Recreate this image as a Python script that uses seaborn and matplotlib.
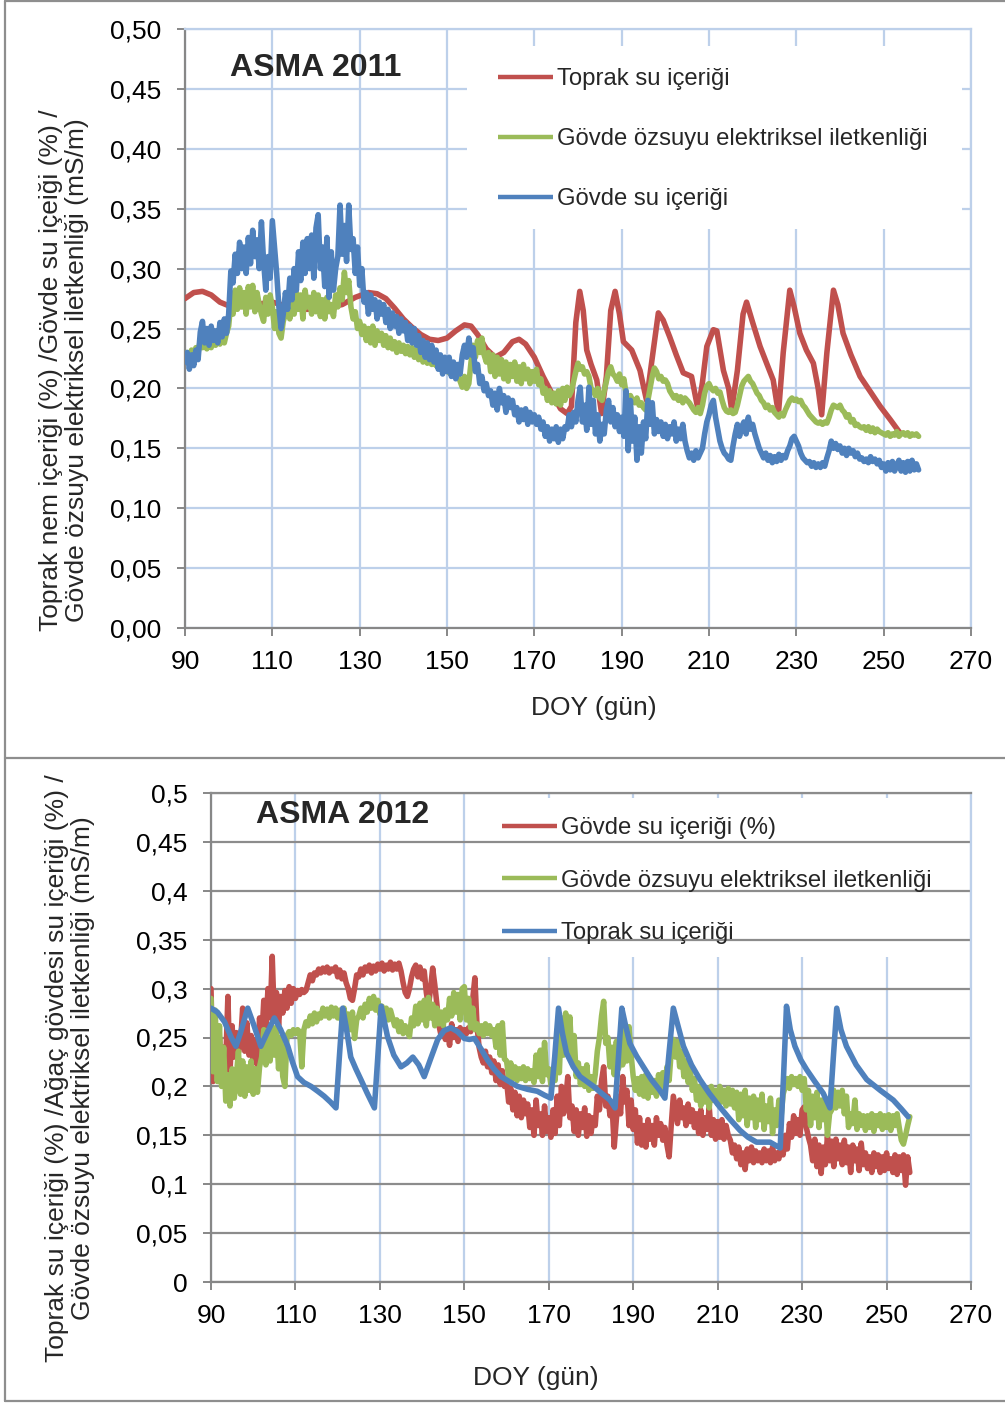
import numpy as np
import matplotlib
matplotlib.use("Agg")
import matplotlib.pyplot as plt
from matplotlib.lines import Line2D
from matplotlib.patches import Rectangle
import seaborn as sns

sns.set_theme(style="white")
plt.rcParams["font.family"] = ["Liberation Sans", "DejaVu Sans"]

RED = "#C0504D"
GREEN = "#9BBB59"
BLUE = "#4F81BD"
GRID_BLUE = "#BDD0EA"
AXIS_GRAY = "#878787"
FRAME_GRAY = "#8E8E8E"

# ---------------------------------------------------------------- axes text
XTICKS = [90, 110, 130, 150, 170, 190, 210, 230, 250, 270]
YTICKS = [0.00, 0.05, 0.10, 0.15, 0.20, 0.25, 0.30, 0.35, 0.40, 0.45, 0.50]
YTICK_LABELS_2011 = ["0,00", "0,05", "0,10", "0,15", "0,20", "0,25",
                     "0,30", "0,35", "0,40", "0,45", "0,50"]
YTICK_LABELS_2012 = ["0", "0,05", "0,1", "0,15", "0,2", "0,25",
                     "0,3", "0,35", "0,4", "0,45", "0,5"]
XLABEL = "DOY (gün)"
YLABEL_2011 = ("Toprak nem içeriği (%) /Gövde su içeiği (%) /\n"
               "Gövde özsuyu elektriksel iletkenliği (mS/m)")
YLABEL_2012 = ("Toprak su içeriği (%) /Ağaç gövdesi su içeriği (%) /\n"
               "Gövde özsuyu elektriksel iletkenliği (mS/m)")
TITLE_2011 = "ASMA 2011"
TITLE_2012 = "ASMA 2012"
LABELS_2011 = ["Toprak su içeriği", "Gövde özsuyu elektriksel iletkenliği",
               "Gövde su içeriği"]
LABELS_2012 = ["Gövde su içeriği (%)", "Gövde özsuyu elektriksel iletkenliği",
               "Toprak su içeriği"]

# ---------------------------------------------------------------- 2011 data
# soil water content (smooth sensor record)
soil_2011_doy = [90, 92, 94, 96, 98, 100, 102, 106, 110, 114, 118, 122, 126, 129,
                 132, 134, 136, 138, 140, 142, 144, 146, 148, 150, 152, 154, 155.5,
                 157, 159, 161, 163, 165, 166.5, 168, 170, 172, 174, 176, 177.5,
                 178.5, 179.5, 180.4, 181.2, 182, 183, 184.3, 185.4, 186.5, 187.5,
                 188.5, 189.5, 190.4, 192.3, 194.2, 195.7, 196.8, 198.4, 199.5, 201,
                 202.5, 204.1, 206, 207.5, 208.5, 209.5, 211, 211.8, 213.3, 214.5,
                 215.2, 216.5, 217.8, 218.6, 220, 221.7, 223.3, 224.7, 225.9, 227,
                 228.5, 229.5, 230.8, 232.3, 233.9, 235, 235.8, 237, 238.5, 239.5,
                 240.7, 242.5, 244.6, 247, 249.2, 251.5, 253.7]
soil_2011 = [0.275, 0.280, 0.281, 0.278, 0.272, 0.269, 0.268, 0.270, 0.272, 0.268,
             0.266, 0.267, 0.270, 0.276, 0.280, 0.279, 0.275, 0.267, 0.258, 0.251,
             0.245, 0.241, 0.240, 0.242, 0.248, 0.253, 0.252, 0.245, 0.233, 0.226,
             0.230, 0.239, 0.241, 0.237, 0.226, 0.210, 0.196, 0.183, 0.179, 0.185,
             0.255, 0.281, 0.265, 0.232, 0.220, 0.207, 0.179, 0.210, 0.265, 0.281,
             0.262, 0.239, 0.232, 0.215, 0.190, 0.220, 0.263, 0.257, 0.243, 0.228,
             0.213, 0.210, 0.182, 0.205, 0.235, 0.249, 0.248, 0.215, 0.200, 0.182,
             0.215, 0.262, 0.272, 0.255, 0.235, 0.220, 0.207, 0.179, 0.230, 0.282,
             0.268, 0.246, 0.232, 0.221, 0.200, 0.178, 0.230, 0.282, 0.270, 0.246,
             0.228, 0.210, 0.197, 0.185, 0.174, 0.163]

# half-daily readings, DOY 90.0 ... 258.0
stem_2011_start, stem_2011_step = 90.0, 0.5
sap_ec_2011 = [
    0.224, 0.230, 0.222, 0.232, 0.226, 0.234, 0.230, 0.240, 0.234, 0.243,
    0.233, 0.242, 0.234, 0.244, 0.236, 0.243, 0.237, 0.245, 0.238, 0.246,
    0.252, 0.272, 0.262, 0.282, 0.266, 0.284, 0.268, 0.280, 0.262, 0.285,
    0.268, 0.286, 0.264, 0.280, 0.270, 0.262, 0.256, 0.276, 0.262, 0.278,
    0.268, 0.250, 0.264, 0.246, 0.242, 0.256, 0.262, 0.272, 0.258, 0.276,
    0.262, 0.280, 0.266, 0.278, 0.258, 0.282, 0.268, 0.276, 0.262, 0.280,
    0.264, 0.278, 0.260, 0.274, 0.258, 0.276, 0.264, 0.270, 0.260, 0.278,
    0.268, 0.284, 0.274, 0.297, 0.280, 0.290, 0.268, 0.258, 0.264, 0.250,
    0.256, 0.245, 0.252, 0.240, 0.250, 0.238, 0.252, 0.236, 0.248, 0.240,
    0.246, 0.236, 0.244, 0.234, 0.242, 0.233, 0.239, 0.230, 0.238, 0.231,
    0.236, 0.229, 0.235, 0.228, 0.234, 0.226, 0.232, 0.224, 0.230, 0.222,
    0.229, 0.221, 0.228, 0.220, 0.227, 0.219, 0.226, 0.218, 0.224, 0.216,
    0.222, 0.213, 0.220, 0.212, 0.219, 0.211, 0.206, 0.201, 0.210, 0.200,
    0.204, 0.222, 0.236, 0.226, 0.240, 0.230, 0.242, 0.228, 0.222, 0.230,
    0.214, 0.228, 0.210, 0.226, 0.212, 0.224, 0.208, 0.222, 0.206, 0.220,
    0.210, 0.222, 0.206, 0.218, 0.204, 0.220, 0.208, 0.216, 0.204, 0.214,
    0.206, 0.216, 0.203, 0.208, 0.196, 0.200, 0.190, 0.198, 0.188, 0.196,
    0.187, 0.198, 0.186, 0.200, 0.190, 0.201, 0.194, 0.198, 0.206, 0.214,
    0.221, 0.216, 0.218, 0.212, 0.214, 0.210, 0.200, 0.198, 0.194, 0.200,
    0.192, 0.190, 0.198, 0.206, 0.214, 0.218, 0.212, 0.210, 0.206, 0.212,
    0.203, 0.208, 0.196, 0.192, 0.194, 0.190, 0.188, 0.192, 0.186, 0.188,
    0.184, 0.182, 0.190, 0.200, 0.210, 0.217, 0.214, 0.208, 0.210, 0.206,
    0.207, 0.204, 0.198, 0.195, 0.192, 0.194, 0.190, 0.193, 0.188, 0.192,
    0.190, 0.188, 0.185, 0.182, 0.180, 0.184, 0.179, 0.186, 0.196, 0.202,
    0.204, 0.200, 0.198, 0.200, 0.196, 0.197, 0.190, 0.184, 0.181, 0.180,
    0.182, 0.179, 0.180, 0.186, 0.194, 0.202, 0.206, 0.208, 0.210, 0.206,
    0.204, 0.200, 0.196, 0.194, 0.190, 0.188, 0.184, 0.186, 0.182, 0.184,
    0.180, 0.178, 0.176, 0.179, 0.177, 0.182, 0.186, 0.190, 0.192, 0.190,
    0.191, 0.189, 0.190, 0.186, 0.184, 0.181, 0.178, 0.176, 0.174, 0.172,
    0.171, 0.172, 0.170, 0.172, 0.171, 0.176, 0.182, 0.186, 0.185, 0.184,
    0.186, 0.182, 0.180, 0.176, 0.178, 0.172, 0.174, 0.169, 0.170, 0.168,
    0.167, 0.168, 0.165, 0.168, 0.164, 0.167, 0.163, 0.166, 0.164, 0.163,
    0.162, 0.161, 0.163, 0.160, 0.162, 0.161, 0.164, 0.160, 0.162, 0.163,
    0.161, 0.163, 0.160, 0.162, 0.161, 0.162, 0.160]
stem_water_2011 = [
    0.222, 0.230, 0.216, 0.228, 0.219, 0.232, 0.224, 0.247, 0.256, 0.238,
    0.250, 0.236, 0.252, 0.240, 0.248, 0.238, 0.255, 0.243, 0.258, 0.246,
    0.262, 0.298, 0.288, 0.312, 0.296, 0.322, 0.300, 0.318, 0.296, 0.326,
    0.304, 0.332, 0.310, 0.324, 0.300, 0.339, 0.306, 0.282, 0.310, 0.292,
    0.340, 0.318, 0.296, 0.268, 0.250, 0.262, 0.280, 0.266, 0.292, 0.274,
    0.300, 0.282, 0.314, 0.290, 0.322, 0.296, 0.325, 0.300, 0.328, 0.292,
    0.334, 0.345, 0.300, 0.318, 0.285, 0.326, 0.276, 0.314, 0.282, 0.300,
    0.310, 0.353, 0.312, 0.336, 0.306, 0.353, 0.316, 0.325, 0.296, 0.318,
    0.286, 0.300, 0.272, 0.280, 0.262, 0.278, 0.266, 0.274, 0.258, 0.272,
    0.262, 0.270, 0.255, 0.266, 0.250, 0.263, 0.252, 0.260, 0.246, 0.258,
    0.248, 0.255, 0.240, 0.252, 0.238, 0.250, 0.236, 0.244, 0.230, 0.240,
    0.226, 0.238, 0.224, 0.236, 0.222, 0.232, 0.216, 0.228, 0.212, 0.226,
    0.214, 0.226, 0.210, 0.222, 0.208, 0.220, 0.212, 0.228, 0.236, 0.226,
    0.242, 0.228, 0.234, 0.214, 0.220, 0.204, 0.210, 0.198, 0.204, 0.194,
    0.198, 0.186, 0.196, 0.182, 0.200, 0.188, 0.194, 0.180, 0.192, 0.184,
    0.190, 0.178, 0.184, 0.172, 0.182, 0.174, 0.183, 0.170, 0.180, 0.172,
    0.178, 0.170, 0.176, 0.166, 0.172, 0.160, 0.168, 0.156, 0.166, 0.158,
    0.168, 0.155, 0.166, 0.158, 0.168, 0.166, 0.178, 0.168, 0.180, 0.172,
    0.190, 0.201, 0.172, 0.186, 0.165, 0.201, 0.170, 0.190, 0.162, 0.178,
    0.156, 0.170, 0.162, 0.182, 0.190, 0.172, 0.184, 0.168, 0.178, 0.164,
    0.176, 0.160, 0.198, 0.148, 0.190, 0.156, 0.176, 0.140, 0.168, 0.146,
    0.172, 0.158, 0.190, 0.170, 0.188, 0.162, 0.174, 0.164, 0.172, 0.160,
    0.170, 0.158, 0.168, 0.162, 0.172, 0.156, 0.166, 0.158, 0.170, 0.156,
    0.148, 0.142, 0.146, 0.140, 0.148, 0.142, 0.146, 0.150, 0.162, 0.172,
    0.178, 0.186, 0.190, 0.176, 0.166, 0.156, 0.150, 0.146, 0.144, 0.141,
    0.140, 0.152, 0.162, 0.170, 0.160, 0.168, 0.172, 0.162, 0.176, 0.166,
    0.170, 0.162, 0.156, 0.150, 0.146, 0.142, 0.146, 0.140, 0.144, 0.138,
    0.143, 0.139, 0.145, 0.140, 0.144, 0.142, 0.148, 0.152, 0.158, 0.160,
    0.156, 0.152, 0.146, 0.142, 0.140, 0.138, 0.139, 0.135, 0.138, 0.134,
    0.137, 0.134, 0.138, 0.135, 0.142, 0.148, 0.156, 0.150, 0.154, 0.149,
    0.152, 0.146, 0.150, 0.144, 0.150, 0.146, 0.148, 0.143, 0.146, 0.141,
    0.142, 0.139, 0.141, 0.138, 0.143, 0.139, 0.141, 0.137, 0.140, 0.134,
    0.137, 0.131, 0.138, 0.132, 0.139, 0.131, 0.136, 0.140, 0.131, 0.138,
    0.130, 0.139, 0.131, 0.140, 0.132, 0.137, 0.132]

# ---------------------------------------------------------------- 2012 data
# half-daily readings, DOY 90.0 ... 255.5
stem_2012_start, stem_2012_step = 90.0, 0.5
stem_water_2012 = [
    0.300, 0.205, 0.262, 0.212, 0.250, 0.208, 0.240, 0.225, 0.292, 0.215,
    0.262, 0.230, 0.255, 0.235, 0.245, 0.280, 0.236, 0.265, 0.232, 0.252,
    0.224, 0.248, 0.222, 0.270, 0.246, 0.288, 0.262, 0.300, 0.270, 0.333,
    0.268, 0.296, 0.262, 0.292, 0.275, 0.298, 0.280, 0.302, 0.285, 0.300,
    0.290, 0.298, 0.294, 0.299, 0.296, 0.298, 0.306, 0.314, 0.308, 0.316,
    0.314, 0.320, 0.316, 0.321, 0.317, 0.322, 0.316, 0.320, 0.318, 0.322,
    0.312, 0.319, 0.310, 0.316, 0.306, 0.300, 0.290, 0.288, 0.300, 0.314,
    0.312, 0.320, 0.314, 0.322, 0.318, 0.324, 0.316, 0.323, 0.318, 0.325,
    0.320, 0.326, 0.318, 0.324, 0.320, 0.327, 0.319, 0.325, 0.320, 0.326,
    0.318, 0.306, 0.296, 0.292, 0.300, 0.312, 0.320, 0.324, 0.312, 0.322,
    0.310, 0.318, 0.296, 0.282, 0.300, 0.321, 0.304, 0.284, 0.262, 0.252,
    0.262, 0.248, 0.258, 0.242, 0.264, 0.250, 0.258, 0.246, 0.260, 0.254,
    0.258, 0.254, 0.260, 0.256, 0.290, 0.311, 0.262, 0.240, 0.230, 0.224,
    0.236, 0.220, 0.230, 0.214, 0.226, 0.206, 0.222, 0.202, 0.216, 0.200,
    0.206, 0.184, 0.198, 0.176, 0.194, 0.170, 0.190, 0.168, 0.186, 0.172,
    0.182, 0.158, 0.176, 0.150, 0.186, 0.160, 0.172, 0.150, 0.180, 0.154,
    0.168, 0.148, 0.176, 0.152, 0.190, 0.160, 0.200, 0.172, 0.186, 0.210,
    0.168, 0.180, 0.154, 0.176, 0.150, 0.172, 0.158, 0.178, 0.149, 0.170,
    0.152, 0.168, 0.160, 0.190, 0.176, 0.206, 0.220, 0.180, 0.190, 0.170,
    0.180, 0.138, 0.166, 0.190, 0.172, 0.210, 0.184, 0.196, 0.160, 0.186,
    0.156, 0.176, 0.142, 0.168, 0.140, 0.160, 0.138, 0.166, 0.146, 0.160,
    0.140, 0.168, 0.150, 0.162, 0.145, 0.158, 0.140, 0.128, 0.160, 0.190,
    0.176, 0.162, 0.186, 0.168, 0.178, 0.160, 0.182, 0.164, 0.176, 0.158,
    0.172, 0.152, 0.176, 0.150, 0.168, 0.156, 0.179, 0.150, 0.166, 0.146,
    0.164, 0.148, 0.166, 0.146, 0.160, 0.150, 0.145, 0.132, 0.140, 0.126,
    0.138, 0.120, 0.132, 0.115, 0.136, 0.124, 0.138, 0.122, 0.134, 0.124,
    0.132, 0.122, 0.136, 0.124, 0.134, 0.122, 0.138, 0.124, 0.132, 0.126,
    0.138, 0.130, 0.150, 0.136, 0.162, 0.148, 0.170, 0.152, 0.166, 0.150,
    0.176, 0.179, 0.158, 0.148, 0.140, 0.124, 0.146, 0.118, 0.140, 0.111,
    0.138, 0.120, 0.149, 0.124, 0.144, 0.118, 0.146, 0.126, 0.140, 0.120,
    0.145, 0.122, 0.138, 0.112, 0.140, 0.124, 0.136, 0.114, 0.142, 0.120,
    0.132, 0.116, 0.128, 0.112, 0.132, 0.118, 0.130, 0.112, 0.128, 0.114,
    0.132, 0.116, 0.126, 0.112, 0.130, 0.110, 0.128, 0.114, 0.130, 0.099,
    0.128, 0.112]
sap_ec_2012 = [
    0.290, 0.215, 0.278, 0.205, 0.262, 0.200, 0.240, 0.185, 0.212, 0.180,
    0.218, 0.188, 0.210, 0.236, 0.192, 0.226, 0.190, 0.220, 0.196, 0.226,
    0.192, 0.218, 0.194, 0.220, 0.230, 0.258, 0.222, 0.250, 0.226, 0.261,
    0.232, 0.260, 0.218, 0.250, 0.210, 0.200, 0.252, 0.256, 0.252, 0.258,
    0.254, 0.258, 0.256, 0.220, 0.258, 0.266, 0.262, 0.272, 0.264, 0.275,
    0.266, 0.274, 0.270, 0.280, 0.272, 0.279, 0.270, 0.281, 0.272, 0.280,
    0.270, 0.278, 0.266, 0.280, 0.262, 0.274, 0.258, 0.276, 0.249, 0.268,
    0.272, 0.280, 0.270, 0.284, 0.276, 0.290, 0.280, 0.292, 0.278, 0.288,
    0.274, 0.282, 0.270, 0.280, 0.268, 0.278, 0.270, 0.262, 0.268, 0.256,
    0.266, 0.254, 0.262, 0.256, 0.251, 0.270, 0.262, 0.282, 0.264, 0.285,
    0.268, 0.288, 0.262, 0.291, 0.270, 0.284, 0.262, 0.280, 0.264, 0.276,
    0.262, 0.278, 0.268, 0.290, 0.272, 0.296, 0.276, 0.294, 0.268, 0.300,
    0.302, 0.268, 0.290, 0.260, 0.280, 0.258, 0.264, 0.254, 0.262, 0.252,
    0.264, 0.254, 0.262, 0.252, 0.258, 0.240, 0.262, 0.232, 0.265, 0.228,
    0.226, 0.210, 0.224, 0.208, 0.220, 0.206, 0.218, 0.208, 0.220, 0.206,
    0.218, 0.208, 0.216, 0.204, 0.232, 0.210, 0.237, 0.205, 0.245, 0.212,
    0.218, 0.202, 0.216, 0.206, 0.258, 0.214, 0.270, 0.232, 0.275, 0.236,
    0.271, 0.224, 0.252, 0.210, 0.224, 0.202, 0.218, 0.200, 0.222, 0.196,
    0.210, 0.198, 0.212, 0.236, 0.250, 0.272, 0.287, 0.244, 0.250, 0.220,
    0.240, 0.212, 0.246, 0.218, 0.250, 0.222, 0.258, 0.226, 0.261, 0.232,
    0.210, 0.196, 0.208, 0.192, 0.210, 0.190, 0.212, 0.188, 0.208, 0.194,
    0.206, 0.190, 0.212, 0.196, 0.214, 0.200, 0.220, 0.206, 0.236, 0.248,
    0.230, 0.246, 0.220, 0.236, 0.210, 0.226, 0.204, 0.218, 0.196, 0.208,
    0.186, 0.200, 0.180, 0.198, 0.184, 0.196, 0.178, 0.200, 0.186, 0.196,
    0.182, 0.200, 0.184, 0.196, 0.180, 0.198, 0.182, 0.196, 0.178, 0.194,
    0.166, 0.192, 0.170, 0.196, 0.160, 0.188, 0.168, 0.190, 0.158, 0.186,
    0.166, 0.192, 0.156, 0.180, 0.164, 0.188, 0.152, 0.176, 0.160, 0.186,
    0.168, 0.192, 0.200, 0.208, 0.198, 0.210, 0.202, 0.208, 0.200, 0.210,
    0.196, 0.208, 0.176, 0.196, 0.160, 0.190, 0.168, 0.194, 0.158, 0.186,
    0.166, 0.188, 0.150, 0.172, 0.176, 0.196, 0.178, 0.194, 0.180, 0.196,
    0.172, 0.190, 0.158, 0.172, 0.162, 0.186, 0.156, 0.172, 0.160, 0.170,
    0.155, 0.170, 0.158, 0.172, 0.154, 0.170, 0.160, 0.172, 0.156, 0.170,
    0.158, 0.171, 0.155, 0.170, 0.160, 0.172, 0.158, 0.145, 0.141, 0.150,
    0.160, 0.169]

# soil water content (smooth sensor record)
soil_2012_doy = [90, 91.5, 93.2, 94.8, 95.9, 97, 98.7, 100.2, 101.8, 103.3, 105,
                 106.5, 108.2, 109.3, 110.5, 112, 113.7, 115.3, 116.8, 118.3, 119.6,
                 120.4, 121.2, 122, 123.1, 124.3, 125.5, 127, 128.7, 129.5, 130.3,
                 131.8, 133.3, 135, 136.4, 137.8, 139.2, 140.5, 142, 143.7, 145.2,
                 146.8, 148.4, 150, 151.2, 152.4, 154, 155.5, 157, 158.7, 160.6,
                 162.6, 165, 167.3, 169, 170.5, 171.4, 172.3, 173.2, 174.2, 175.8,
                 177.4, 179, 180.6, 182.5, 184.5, 185.7, 186.5, 187.3, 188.2, 189.2,
                 190.8, 192.4, 194.3, 196.3, 197.5, 198.5, 199.5, 200.6, 201.9,
                 203.8, 205.8, 208, 210.5, 213, 215.3, 217.2, 219.2, 222.4, 224.8,
                 225.6, 226.3, 227.2, 228.3, 229.7, 231.1, 233, 235, 236.6, 237.4,
                 238.2, 239.2, 240.5, 242.8, 245.3, 248.5, 251.6, 253.5, 255.1]
soil_2012 = [0.280, 0.276, 0.266, 0.250, 0.241, 0.255, 0.280, 0.262, 0.241, 0.255,
             0.270, 0.258, 0.241, 0.225, 0.210, 0.204, 0.200, 0.195, 0.190, 0.184,
             0.178, 0.230, 0.280, 0.261, 0.230, 0.218, 0.207, 0.193, 0.178, 0.230,
             0.282, 0.251, 0.232, 0.220, 0.224, 0.230, 0.222, 0.210, 0.228, 0.248,
             0.257, 0.260, 0.256, 0.249, 0.248, 0.249, 0.238, 0.227, 0.218, 0.210,
             0.205, 0.200, 0.197, 0.195, 0.191, 0.188, 0.230, 0.280, 0.255, 0.234,
             0.220, 0.210, 0.205, 0.200, 0.193, 0.186, 0.178, 0.230, 0.280, 0.262,
             0.244, 0.231, 0.220, 0.207, 0.196, 0.188, 0.235, 0.280, 0.262, 0.241,
             0.222, 0.207, 0.193, 0.179, 0.166, 0.155, 0.148, 0.143, 0.143, 0.137,
             0.210, 0.282, 0.258, 0.241, 0.227, 0.217, 0.205, 0.193, 0.178, 0.230,
             0.280, 0.258, 0.241, 0.222, 0.207, 0.196, 0.186, 0.177, 0.169]

# ---------------------------------------------------------------- figure
W_PX, H_PX = 1005, 1403
fig = plt.figure(figsize=(W_PX / 100, H_PX / 100), dpi=100)


def px_rect(left, top, right, bottom):
    return [left / W_PX, 1 - bottom / H_PX, (right - left) / W_PX, (bottom - top) / H_PX]


ax1 = fig.add_axes(px_rect(185, 29, 971, 628))
ax2 = fig.add_axes(px_rect(211, 793, 971, 1282))

# panel frames
for xs, ys in [([5, 5], [1, 1401]), ([5, 1005], [1, 1]), ([5, 1005], [758, 758]),
               ([5, 1005], [1401, 1401])]:
    fig.add_artist(Line2D([x / W_PX for x in xs], [1 - y / H_PX for y in ys],
                          color=FRAME_GRAY, lw=1.6))


def style_axes(ax, ytick_labels, hgrid_color, top_spine_color):
    ax.set_xlim(90, 270)
    ax.set_ylim(0, 0.5)
    ax.set_xticks(XTICKS)
    ax.set_xticklabels([str(v) for v in XTICKS])
    ax.set_yticks(YTICKS)
    ax.set_yticklabels(ytick_labels)
    ax.set_axisbelow(True)
    ax.grid(axis="x", color=GRID_BLUE, lw=1.6)
    ax.grid(axis="y", color=hgrid_color, lw=1.6)
    ax.spines["left"].set_color(AXIS_GRAY)
    ax.spines["bottom"].set_color(AXIS_GRAY)
    ax.spines["right"].set_color(GRID_BLUE)
    ax.spines["top"].set_color(top_spine_color)
    for s in ax.spines.values():
        s.set_linewidth(1.6)
    ax.tick_params(axis="both", which="major", direction="out", length=6, width=1.4,
                   color=AXIS_GRAY, labelsize=19, labelcolor="black",
                   left=True, bottom=True)
    ax.tick_params(axis="y", pad=11)
    ax.tick_params(axis="x", pad=10)


def draw_series(ax, x, y, color, z):
    sns.lineplot(x=x, y=y, color=color, lw=4.0, ax=ax, zorder=z, sort=False,
                 estimator=None, legend=False, solid_joinstyle="round",
                 solid_capstyle="round")


def add_legend(ax, colors, labels, anchor, spacing):
    handles = [Line2D([], [], color=c, lw=3.2, solid_capstyle="butt") for c in colors]
    leg = ax.legend(handles, labels, loc="upper left", bbox_to_anchor=anchor,
                    frameon=False, fontsize=17.2, handlelength=2.3,
                    handletextpad=0.18, labelspacing=spacing, borderpad=0,
                    borderaxespad=0)
    leg.set_zorder(6)


# ---- 2011 panel
doy_stem_2011 = stem_2011_start + stem_2011_step * np.arange(len(stem_water_2011))
draw_series(ax1, soil_2011_doy, soil_2011, RED, 3)
draw_series(ax1, doy_stem_2011, sap_ec_2011, GREEN, 4)
draw_series(ax1, doy_stem_2011, stem_water_2011, BLUE, 5)
style_axes(ax1, YTICK_LABELS_2011, GRID_BLUE, GRID_BLUE)
ax1.add_patch(Rectangle((0.3588, 0.666), 0.6297, 0.3056, transform=ax1.transAxes,
                        facecolor="white", edgecolor="none", zorder=1))
ax1.text(0.0573, 0.935, TITLE_2011, transform=ax1.transAxes, fontsize=23,
         fontweight="bold", ha="left", va="center", zorder=6)
add_legend(ax1, [RED, GREEN, BLUE], LABELS_2011, (0.398, 0.935), 1.59)
ax1.set_xlabel(XLABEL, fontsize=19, va="center")
ax1.xaxis.set_label_coords(0.52, -0.1336)
ax1.set_ylabel(YLABEL_2011, fontsize=19, va="center", linespacing=1.1)
ax1.yaxis.set_label_coords(-0.154, 0.43)

# ---- 2012 panel
doy_stem_2012 = stem_2012_start + stem_2012_step * np.arange(len(stem_water_2012))
draw_series(ax2, doy_stem_2012, stem_water_2012, RED, 3)
draw_series(ax2, doy_stem_2012, sap_ec_2012, GREEN, 4)
draw_series(ax2, soil_2012_doy, soil_2012, BLUE, 5)
style_axes(ax2, YTICK_LABELS_2012, "#8C8C8C", "#8C8C8C")
ax2.yaxis.set_zorder(1.2)
ax2.add_patch(Rectangle((0.365, 0.665), 0.6, 0.325, transform=ax2.transAxes,
                        facecolor="white", edgecolor="none", zorder=1))
ax2.text(0.0592, 0.955, TITLE_2012, transform=ax2.transAxes, fontsize=23,
         fontweight="bold", ha="left", va="center", zorder=6)
add_legend(ax2, [RED, GREEN, BLUE], LABELS_2012, (0.383, 0.951), 1.28)
ax2.set_xlabel(XLABEL, fontsize=19, va="center")
ax2.xaxis.set_label_coords(0.4276, -0.196)
ax2.set_ylabel(YLABEL_2012, fontsize=19, va="center", linespacing=1.1)
ax2.yaxis.set_label_coords(-0.1855, 0.4376)

fig.savefig("out.png", dpi=100, facecolor="white")
